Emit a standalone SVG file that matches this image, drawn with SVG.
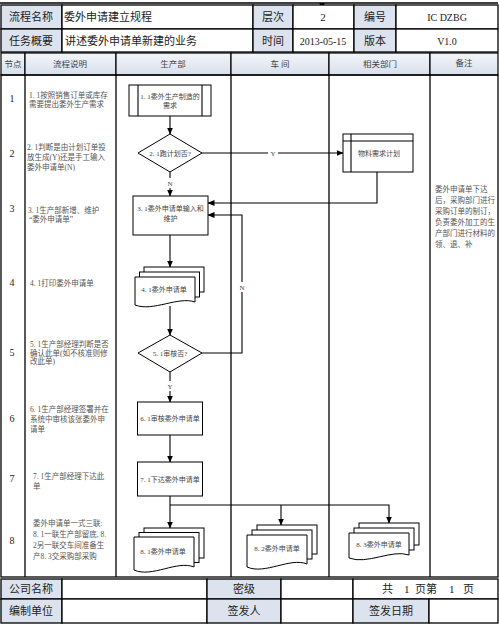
<svg xmlns="http://www.w3.org/2000/svg" width="499" height="626" viewBox="0 0 499 626">
<defs>
  <linearGradient id="hdr" x1="0" y1="0" x2="0" y2="1">
    <stop offset="0" stop-color="#f3f5fa"/>
    <stop offset="1" stop-color="#d8dfeb"/>
  </linearGradient>
  <marker id="arr" markerWidth="7" markerHeight="6" refX="6.5" refY="3" orient="auto" markerUnits="userSpaceOnUse">
    <path d="M0,0 L7,3 L0,6 Z" fill="#000"/>
  </marker>
  <style>
    .cell{fill:#fff;stroke:#000;stroke-width:1.3}
    .lab{fill:#dde3ee;stroke:#000;stroke-width:1.3}
    .lh{fill:url(#hdr);stroke:#000;stroke-width:1.2}
    .t{font-family:"Liberation Serif","Noto Sans CJK SC",serif;fill:#222}
    .h{font-size:11px}
    .lht{font-size:8.5px;fill:#444;text-anchor:middle}
    .num{font-size:10px;text-anchor:middle}
    .d{font-size:7.5px;fill:#555}
    .s{font-size:7px;fill:#444}
    .c{text-anchor:middle}
    .shape{fill:#fff;stroke:#000;stroke-width:1}
    .ln{fill:none;stroke:#000;stroke-width:1.1}
    .col{stroke:#000;stroke-width:1.3}
  </style>
</defs>
<rect width="499" height="626" fill="#fff"/>
<g id="topline">
  <line x1="0" y1="3" x2="498" y2="3" stroke="#000" stroke-width="1.5"/>
  <path d="M319,3 L325,3 L322,8 Z" fill="#000"/>
</g>
<g id="header">
  <rect class="lab" x="1" y="5" width="61" height="24"/>
  <rect class="cell" x="62" y="5" width="191" height="24"/>
  <rect class="lab" x="253" y="5" width="40" height="24"/>
  <rect class="cell" x="293" y="5" width="61" height="24"/>
  <rect class="lab" x="354" y="5" width="42" height="24"/>
  <rect class="cell" x="396" y="5" width="102" height="24"/>
  <rect class="lab" x="1" y="29" width="61" height="23"/>
  <rect class="cell" x="62" y="29" width="191" height="23"/>
  <rect class="lab" x="253" y="29" width="40" height="23"/>
  <rect class="cell" x="293" y="29" width="61" height="23"/>
  <rect class="lab" x="354" y="29" width="42" height="23"/>
  <rect class="cell" x="396" y="29" width="102" height="23"/>
  <text class="t h c" x="31" y="21">流程名称</text>
  <text class="t h" x="64" y="21">委外申请建立规程</text>
  <text class="t h c" x="273" y="21">层次</text>
  <text class="t h c" x="323" y="21">2</text>
  <text class="t h c" x="375" y="21">编号</text>
  <text class="t c" style="font-size:10px" x="447" y="21">IC DZBG</text>
  <text class="t h c" x="31" y="44.5">任务概要</text>
  <text class="t h" x="65" y="44.5">讲述委外申请单新建的业务</text>
  <text class="t h c" x="273" y="44.5">时间</text>
  <text class="t c" style="font-size:10px" x="323" y="44.5">2013-05-15</text>
  <text class="t h c" x="375" y="44.5">版本</text>
  <text class="t c" style="font-size:10px" x="447" y="44.5">V1.0</text>
</g>
<g id="lanes">
  <rect class="lh" x="1" y="53" width="24" height="22"/>
  <rect class="lh" x="25" y="53" width="91" height="22"/>
  <rect class="lh" x="116" y="53" width="115" height="22"/>
  <rect class="lh" x="231" y="53" width="98" height="22"/>
  <rect class="lh" x="329" y="53" width="101" height="22"/>
  <rect class="lh" x="430" y="53" width="68" height="22"/>
  <text class="t lht" x="13" y="67">节点</text>
  <text class="t lht" x="70" y="67">流程说明</text>
  <text class="t lht" x="173" y="67">生产部</text>
  <text class="t lht" x="280" y="67">车  间</text>
  <text class="t lht" x="380" y="67">相关部门</text>
  <text class="t lht" x="464" y="66">备注</text>
  <rect x="1" y="75" width="497" height="502" fill="none" stroke="#000" stroke-width="1.3"/>
  <line class="col" x1="25" y1="75" x2="25" y2="577"/>
  <line class="col" x1="116" y1="75" x2="116" y2="577"/>
  <line class="col" x1="231" y1="75" x2="231" y2="577"/>
  <line class="col" x1="329" y1="75" x2="329" y2="577"/>
  <line class="col" x1="430" y1="75" x2="430" y2="577"/>
</g>
<g id="numbers">
  <text class="t num" x="12" y="102">1</text>
  <text class="t num" x="12" y="157">2</text>
  <text class="t num" x="12" y="212">3</text>
  <text class="t num" x="12" y="286">4</text>
  <text class="t num" x="12" y="356">5</text>
  <text class="t num" x="12" y="422">6</text>
  <text class="t num" x="12" y="482">7</text>
  <text class="t num" x="12" y="544">8</text>
</g>
<g id="descriptions">
  <text class="t d" x="29" y="98">1. 1按照销售订单或库存</text>
  <text class="t d" x="29" y="106.5">需要提出委外生产需求</text>
  <text class="t d" x="27" y="149.5">2. 1判断是由计划订单投</text>
  <text class="t d" x="27" y="159.5">放生成(Y)还是手工输入</text>
  <text class="t d" x="27" y="169.5">委外申请单(N)</text>
  <text class="t d" x="28" y="212.5">3. 1生产部新增、维护</text>
  <text class="t d" x="29" y="221.5">“委外申请单”</text>
  <text class="t d" x="30" y="285.5">4. 1打印委外申请单</text>
  <text class="t d" x="30" y="346.5">5. 1生产部经理判断是否</text>
  <text class="t d" x="30" y="355.5">确认此单(如不核准则修</text>
  <text class="t d" x="30" y="364">改此单)</text>
  <text class="t d" x="30" y="411.5">6. 1生产部经理签署并在</text>
  <text class="t d" x="30" y="421.5">系统中审核该张委外申</text>
  <text class="t d" x="30" y="431.5">请单</text>
  <text class="t d" x="33" y="478.5">7. 1生产部经理下达此</text>
  <text class="t d" x="33" y="488.5">单</text>
  <text class="t d" x="33" y="525.5">委外申请单一式三联:</text>
  <text class="t d" x="33" y="536.5">8. 1一联生产部留底, 8.</text>
  <text class="t d" x="33" y="547.5">2另一联交车间准备生</text>
  <text class="t d" x="33" y="559">产8. 3交采购部采购</text>
</g>
<g id="remarks">
  <text class="t d" x="435" y="191.5">委外申请单下达</text>
  <text class="t d" x="435" y="202.5">后，采购部门进行</text>
  <text class="t d" x="435" y="213.5">采购订单的制订，</text>
  <text class="t d" x="435" y="224.5">负责委外加工的生</text>
  <text class="t d" x="435" y="235.5">产部门进行材料的</text>
  <text class="t d" x="435" y="246.5">领、退、补</text>
</g>
<g id="connectors">
  <line class="ln" x1="170" y1="116" x2="170" y2="134" marker-end="url(#arr)"/>
  <line class="ln" x1="202" y1="153" x2="343" y2="153" marker-end="url(#arr)"/>
  <polyline class="ln" points="377,172 377,203 208,203" marker-end="url(#arr)"/>
  <line class="ln" x1="170" y1="172" x2="170" y2="196" marker-end="url(#arr)"/>
  <line class="ln" x1="170" y1="235" x2="170" y2="267" marker-end="url(#arr)"/>
  <line class="ln" x1="170" y1="306" x2="170" y2="335" marker-end="url(#arr)"/>
  <polyline class="ln" points="202,353 242,353 242,215 208,215" marker-end="url(#arr)"/>
  <line class="ln" x1="170" y1="372" x2="170" y2="402" marker-end="url(#arr)"/>
  <line class="ln" x1="170" y1="435" x2="170" y2="462" marker-end="url(#arr)"/>
  <line class="ln" x1="170" y1="496" x2="170" y2="528" marker-end="url(#arr)"/>
  <polyline class="ln" points="170,505 389,505 389,523" marker-end="url(#arr)"/>
  <line class="ln" x1="281" y1="505" x2="281" y2="525" marker-end="url(#arr)"/>
  <rect x="268" y="148" width="10" height="10" fill="#fff"/>
  <text class="t s c" x="273" y="155.5">Y</text>
  <rect x="165" y="178" width="10" height="10" fill="#fff"/>
  <text class="t s c" x="170" y="185.5">N</text>
  <rect x="237" y="282" width="10" height="10" fill="#fff"/>
  <text class="t s c" x="242" y="289.5">N</text>
  <rect x="165" y="381" width="10" height="10" fill="#fff"/>
  <text class="t s c" x="170" y="388.5">Y</text>
</g>
<g id="n1">
  <rect class="shape" x="129" y="85" width="82" height="31"/>
  <line class="ln" x1="138" y1="85" x2="138" y2="116"/>
  <line class="ln" x1="202" y1="85" x2="202" y2="116"/>
  <text class="t s c" x="170" y="98.5">1. 1委外生产制造的</text>
  <text class="t s c" x="170" y="107.5">需求</text>
</g>
<g id="n2">
  <polygon class="shape" points="170,134 202,153 170,172 138,153"/>
  <text class="t s c" x="170" y="155.5">2. 1跑计划否?</text>
</g>
<g id="n_mrp">
  <rect class="shape" x="343" y="134" width="70" height="38"/>
  <line class="ln" x1="351" y1="134" x2="351" y2="172"/>
  <line class="ln" x1="343" y1="141" x2="413" y2="141"/>
  <text class="t s c" x="379" y="155.5">物料需求计划</text>
</g>
<g id="n3">
  <rect class="shape" x="133" y="196" width="75" height="39"/>
  <text class="t s c" x="170.5" y="211">3. 1委外申请单输入和</text>
  <text class="t s c" x="170.5" y="220.5">维护</text>
</g>
<g id="n4">
  <rect class="shape" x="144" y="267" width="60" height="25"/>
  <rect class="shape" x="139.5" y="272" width="60" height="25"/>
  <path class="shape" d="M135,277 H195 V302 C178,296 153,312 135,305 Z"/>
  <text class="t s c" x="164" y="291.5">4. 1委外申请单</text>
</g>
<g id="n5">
  <polygon class="shape" points="170,335 202,353 170,372 138,353"/>
  <text class="t s c" x="170" y="355.5">5. 1审核否?</text>
</g>
<g id="n6">
  <rect class="shape" x="137.5" y="402" width="65" height="33"/>
  <text class="t s c" x="170" y="421">6. 1审核委外申请单</text>
</g>
<g id="n7">
  <rect class="shape" x="137.5" y="462" width="65" height="34"/>
  <text class="t s c" x="170" y="481.5">7. 1下达委外申请单</text>
</g>
<g id="n81">
  <rect class="shape" x="144" y="528" width="60" height="30"/>
  <rect class="shape" x="139" y="532.5" width="60" height="30"/>
  <path class="shape" d="M134,537 H194 V567 C177,560 152,578 134,570 Z"/>
  <text class="t s c" x="163" y="553.5">8. 1委外申请单</text>
</g>
<g id="n82">
  <rect class="shape" x="257" y="525" width="60" height="29"/>
  <rect class="shape" x="252" y="530" width="60" height="29"/>
  <path class="shape" d="M247,535 H307 V564 C290,557 265,575 247,567 Z"/>
  <text class="t s c" x="277" y="550.5">8. 2委外申请单</text>
</g>
<g id="n83">
  <rect class="shape" x="359" y="523" width="60" height="22"/>
  <rect class="shape" x="354" y="528" width="60" height="22"/>
  <path class="shape" d="M349,533 H409 V555 C392,549 367,565 349,558 Z"/>
  <text class="t s c" x="379" y="546.5">8. 3委外申请单</text>
</g>
<g id="footer">
  <rect class="lab" x="1" y="579" width="61" height="20"/>
  <rect class="cell" x="62" y="579" width="145" height="20"/>
  <rect class="lab" x="207" y="579" width="74" height="20"/>
  <rect class="cell" x="281" y="579" width="72" height="20"/>
  <rect class="cell" x="353" y="579" width="145" height="20"/>
  <rect class="lab" x="1" y="599" width="61" height="24"/>
  <rect class="cell" x="62" y="599" width="145" height="24"/>
  <rect class="lab" x="207" y="599" width="74" height="24"/>
  <rect class="cell" x="281" y="599" width="72" height="24"/>
  <rect class="lab" x="353" y="599" width="76" height="24"/>
  <rect class="cell" x="429" y="599" width="69" height="24"/>
  <text class="t h c" x="31" y="593">公司名称</text>
  <text class="t h c" x="244" y="593">密级</text>
  <text class="t h" y="593"><tspan x="382">共</tspan><tspan x="404">1</tspan><tspan x="415">页第</tspan><tspan x="449">1</tspan><tspan x="463">页</tspan></text>
  <text class="t h c" x="31" y="615">编制单位</text>
  <text class="t h c" x="244" y="615">签发人</text>
  <text class="t h c" x="391" y="615">签发日期</text>
</g>
</svg>
